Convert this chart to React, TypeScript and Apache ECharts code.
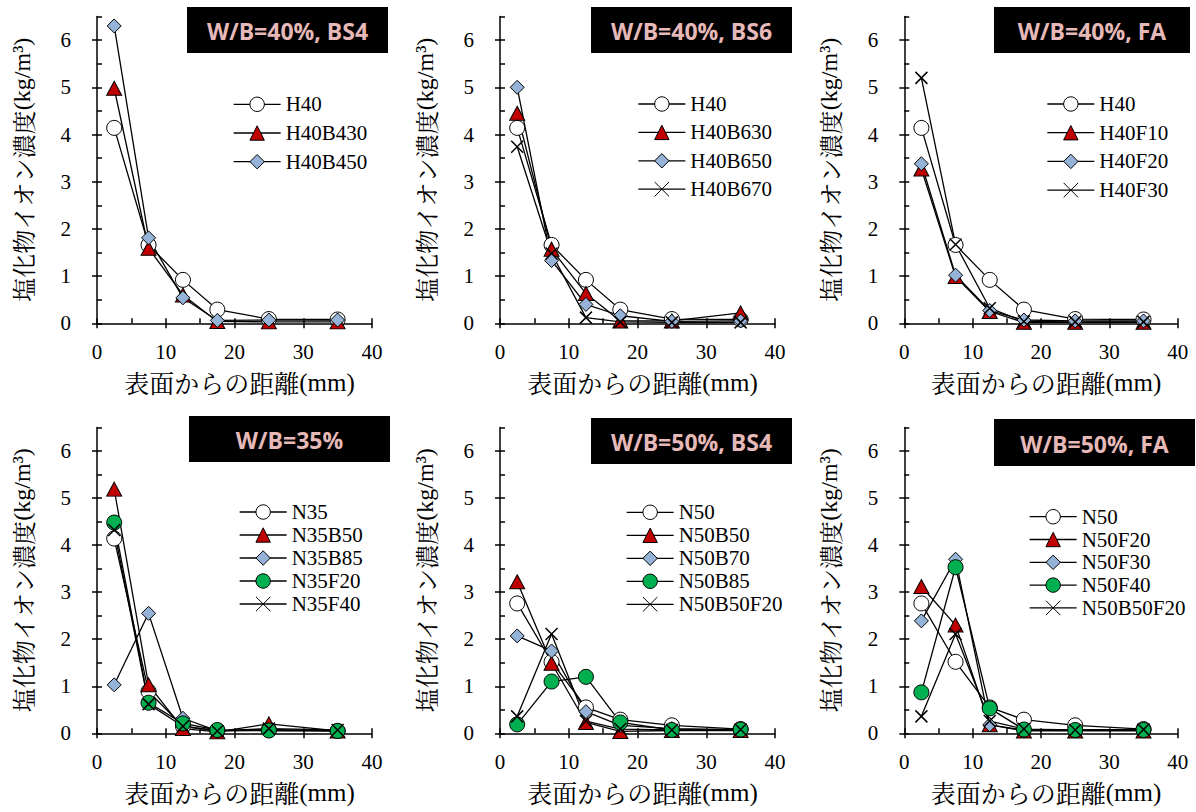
import React, { useEffect, useRef } from 'react';
import * as echarts from 'echarts';

// ---------- data ----------
const DEPTHS = [2.5, 7.5, 12.5, 17.5, 25, 35];
const X_TICKS = [0, 10, 20, 30, 40];
const Y_TICKS = [0, 1, 2, 3, 4, 5, 6];
const X_NAME = '表面からの距離';
const X_UNIT = '(mm)';
const Y_NAME = '塩化物イオン濃度';
const Y_UNIT = '(kg/m³)';

const TITLES = ['W/B=40%, BS4', 'W/B=40%, BS6', 'W/B=40%, FA', 'W/B=35%', 'W/B=50%, BS4', 'W/B=50%, FA'];

// panel 1
const H40 = [4.14, 1.66, 0.92, 0.29, 0.09, 0.08];
const H40B430 = [4.98, 1.59, 0.6, 0.04, 0.03, 0.03];
const H40B450 = [6.3, 1.81, 0.54, 0.06, 0.07, 0.07];
// panel 2
const H40B630 = [4.45, 1.57, 0.63, 0.05, 0.05, 0.22];
const H40B650 = [5.0, 1.33, 0.4, 0.16, 0.04, 0.05];
const H40B670 = [3.74, 1.48, 0.12, 0.03, 0.02, 0.02];
// panel 3
const H40F10 = [3.27, 0.99, 0.25, 0.02, 0.02, 0.02];
const H40F20 = [3.38, 1.02, 0.27, 0.07, 0.05, 0.05];
const H40F30 = [5.2, 1.67, 0.32, 0.04, 0.03, 0.03];
// panel 4
const N35 = [4.14, 0.89, 0.15, 0.05, 0.08, 0.05];
const N35B50 = [5.19, 1.03, 0.1, 0.03, 0.2, 0.05];
const N35B85 = [1.03, 2.55, 0.32, 0.05, 0.06, 0.05];
const N35F20 = [4.48, 0.65, 0.21, 0.07, 0.06, 0.05];
const N35F40 = [4.32, 0.62, 0.15, 0.05, 0.1, 0.07];
// panel 5
const N50 = [2.76, 1.52, 0.55, 0.29, 0.17, 0.09];
const N50B50 = [3.22, 1.49, 0.23, 0.04, 0.06, 0.06];
const N50B70 = [2.07, 1.75, 0.46, 0.17, 0.1, 0.08];
const N50B85 = [0.19, 1.1, 1.2, 0.23, 0.07, 0.08];
const N50B50F20 = [0.36, 2.11, 0.26, 0.09, 0.07, 0.08];
// panel 6
const N50F20 = [3.12, 2.3, 0.18, 0.05, 0.05, 0.05];
const N50F30 = [2.39, 3.7, 0.18, 0.07, 0.07, 0.07];
const N50F40 = [0.87, 3.53, 0.53, 0.08, 0.07, 0.07];

// ---------- styles ----------
const SERIF = "'Liberation Serif', 'Times New Roman', serif";
const CJK = "'Noto Serif CJK JP', 'Noto Sans CJK JP', sans-serif";
const TITLE_FONT = "bold 23px 'Open Sans', sans-serif";

const MARKERS: Record<string, any> = {
  open: { symbol: 'circle', symbolSize: 15, color: '#ffffff' },
  tri: { symbol: 'triangle', symbolSize: [15, 14], color: '#c00000' },
  dia: { symbol: 'diamond', symbolSize: 14, color: '#95b3d7' },
  green: { symbol: 'circle', symbolSize: 15, color: '#00b050' },
  cross: { symbol: 'path://M0,0L10,10M10,0L0,10', symbolSize: 12, color: 'transparent' },
};

type S = [string, number[], string];
const PANELS: { series: S[] }[] = [
  { series: [['H40', H40, 'open'], ['H40B430', H40B430, 'tri'], ['H40B450', H40B450, 'dia']] },
  { series: [['H40', H40, 'open'], ['H40B630', H40B630, 'tri'], ['H40B650', H40B650, 'dia'], ['H40B670', H40B670, 'cross']] },
  { series: [['H40', H40, 'open'], ['H40F10', H40F10, 'tri'], ['H40F20', H40F20, 'dia'], ['H40F30', H40F30, 'cross']] },
  { series: [['N35', N35, 'open'], ['N35B50', N35B50, 'tri'], ['N35B85', N35B85, 'dia'], ['N35F20', N35F20, 'green'], ['N35F40', N35F40, 'cross']] },
  { series: [['N50', N50, 'open'], ['N50B50', N50B50, 'tri'], ['N50B70', N50B70, 'dia'], ['N50B85', N50B85, 'green'], ['N50B50F20', N50B50F20, 'cross']] },
  { series: [['N50', N50, 'open'], ['N50F20', N50F20, 'tri'], ['N50F30', N50F30, 'dia'], ['N50F40', N50F40, 'green'], ['N50B50F20', N50B50F20, 'cross']] },
];

// ---------- layout ----------
const GRID_LEFT = [97, 500, 904.3];
const GRID_WIDTH = [275, 275, 273.4];
const GRID_TOP = [16.5, 427.5];
const GRID_HEIGHT = [306.8, 305.8];
const LEGEND_POS = [
  { left: 233, center: 104.3, step: 28.7 },
  { left: 637.7, center: 104, step: 28.4 },
  { left: 1046.7, center: 104, step: 28.7 },
  { left: 239, center: 512, step: 23 },
  { left: 626, center: 512.3, step: 23 },
  { left: 1029, center: 516.7, step: 22.8 },
];
const TITLE_BOX = [
  { x: 187, y: 7, w: 201, h: 46 },
  { x: 591, y: 7, w: 201, h: 46 },
  { x: 994, y: 7, w: 196, h: 46 },
  { x: 189, y: 416, w: 201, h: 46 },
  { x: 591, y: 418, w: 201, h: 46 },
  { x: 994, y: 419, w: 201, h: 47 },
];

function buildOption() {
  const grid: any[] = [];
  const xAxis: any[] = [];
  const yAxis: any[] = [];
  const series: any[] = [];
  const legend: any[] = [];
  const graphic: any[] = [];
  const axisLine = { show: true, onZero: false, lineStyle: { color: '#000', width: 1.5 } };
  const tickLine = { color: '#000', width: 1.5 };
  const LH = 21;

  PANELS.forEach((p, i) => {
    const col = i % 3;
    const row = Math.floor(i / 3);
    grid.push({ left: GRID_LEFT[col], top: GRID_TOP[row], width: GRID_WIDTH[col], height: GRID_HEIGHT[row], containLabel: false });
    xAxis.push({
      gridIndex: i, type: 'value', min: 0, max: 40, interval: 10, position: 'bottom',
      axisLine, axisTick: { show: true, inside: false, length: 5, lineStyle: tickLine, customValues: X_TICKS },
      axisLabel: { margin: 18, fontSize: 21, color: '#000', fontFamily: SERIF, customValues: X_TICKS },
      splitLine: { show: false },
      name: `{c|${X_NAME}}{l|${X_UNIT}}`, nameLocation: 'middle', nameGap: 44,
      nameTextStyle: {
        color: '#000',
        padding: [0, 0, 0, 10],
        rich: {
          c: { fontFamily: CJK, fontSize: 25, color: '#000', lineHeight: 30 },
          l: { fontFamily: SERIF, fontSize: 25, color: '#000', lineHeight: 30 },
        },
      },
    });
    xAxis.push({
      gridIndex: i, type: 'value', min: 0, max: 40, interval: 5, position: 'bottom',
      axisLine: { show: false, onZero: false }, axisTick: { show: true, inside: true, length: 5, lineStyle: tickLine },
      axisLabel: { show: false }, splitLine: { show: false },
    });
    yAxis.push({
      gridIndex: i, type: 'value', min: 0, max: 6.5, interval: 0.5, position: 'left',
      axisLine, axisTick: { show: true, inside: false, length: 5, lineStyle: tickLine, customValues: Y_TICKS },
      axisLabel: { margin: 26, fontSize: 21, color: '#000', fontFamily: SERIF, customValues: Y_TICKS },
      splitLine: { show: false },
      name: `{c|${Y_NAME}}{l|${Y_UNIT}}`, nameLocation: 'middle', nameGap: 61,
      nameTextStyle: {
        color: '#000',
        rich: {
          c: { fontFamily: CJK, fontSize: 24, color: '#000', lineHeight: 28 },
          l: { fontFamily: SERIF, fontSize: 24, color: '#000', lineHeight: 28 },
        },
      },
    });
    yAxis.push({
      gridIndex: i, type: 'value', min: 0, max: 6.5, interval: 0.5, position: 'left',
      axisLine: { show: false, onZero: false }, axisTick: { show: true, inside: true, length: 5, lineStyle: tickLine },
      axisLabel: { show: false }, splitLine: { show: false },
    });

    p.series.forEach(([name, vals, mk]) => {
      const m = MARKERS[mk];
      series.push({
        type: 'line', name, xAxisIndex: i * 2, yAxisIndex: i * 2,
        data: DEPTHS.map((d, k) => [d, vals[k]]),
        symbol: m.symbol, symbolSize: m.symbolSize, showAllSymbol: true,
        lineStyle: { color: '#000', width: 1.3 },
        itemStyle: { color: m.color, borderColor: '#000', borderWidth: mk === 'cross' ? 1.5 : 1, opacity: 1 },
        emphasis: { disabled: true },
        z: 2,
      });
    });

    const lp = LEGEND_POS[i];
    legend.push({
      orient: 'vertical', left: lp.left, top: lp.center - LH / 2, padding: 0,
      itemWidth: 47, itemHeight: 18, itemGap: lp.step - LH,
      selectedMode: false,
      data: p.series.map((s) => s[0]),
      textStyle: { fontFamily: SERIF, fontSize: 21, color: '#000', lineHeight: LH },
      itemStyle: { borderColor: '#000', borderWidth: 1 },
      lineStyle: { color: '#000', width: 1.3 },
    });

    const tb = TITLE_BOX[i];
    graphic.push({ type: 'rect', shape: { x: tb.x, y: tb.y, width: tb.w, height: tb.h }, style: { fill: '#000' }, z: 10 });
    graphic.push({
      type: 'text', x: tb.x + tb.w / 2, y: tb.y + tb.h / 2 + 1, z: 11,
      style: { text: TITLES[i], align: 'center', verticalAlign: 'middle', fill: '#e6b9b8', font: TITLE_FONT },
    });
  });

  return { animation: false, backgroundColor: '#fff', grid, xAxis, yAxis, series, legend, graphic, tooltip: { show: false } };
}

export default function App() {
  const ref = useRef<HTMLDivElement>(null);
  useEffect(() => {
    document.body.style.margin = '0';
    if (!ref.current) return;
    const chart = echarts.init(ref.current, null, { renderer: 'svg' });
    chart.setOption(buildOption() as any);
    return () => chart.dispose();
  }, []);
  return (
    <div style={{ position: 'fixed', left: 0, top: 0, width: 1196, height: 812, background: '#fff' }}>
      <div ref={ref} style={{ width: 1196, height: 812 }} />
    </div>
  );
}
